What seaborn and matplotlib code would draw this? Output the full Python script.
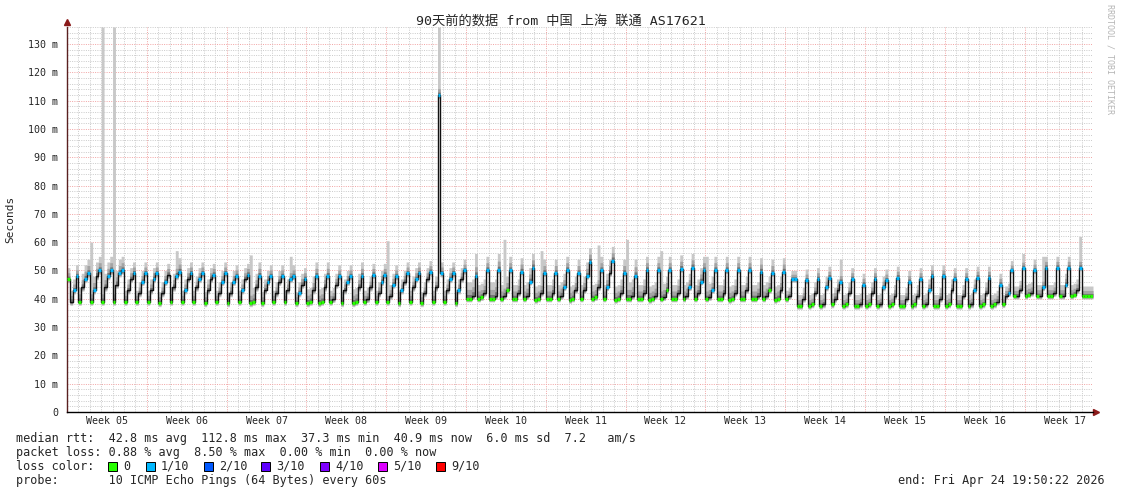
import matplotlib
matplotlib.use("Agg")
import matplotlib.pyplot as plt
from matplotlib.patches import Rectangle
from matplotlib.ticker import MultipleLocator
import numpy as np
import pandas as pd
import seaborn as sns

sns.set_style("white")
plt.rcParams['font.family'] = ['DejaVu Sans Mono', 'Noto Sans CJK SC']

# median rtt (ms), 4 samples per day, 90 days, one row per week
median_rtt = [
    47, 39, 43, 48, 39, 44, 47, 49, 39, 43, 48, 50, 39, 44, 48, 50, 39, 45, 49, 50, 39, 43, 47, 49, 39, 42, 46, 49,
    39, 43, 47, 49, 38.5, 42, 46, 48.5, 39, 44, 48, 49.5, 39, 43, 47, 49, 39, 44, 47, 49, 38.5, 43, 47, 48.5, 39, 42, 46, 49,
    38.5, 42, 46, 48, 39, 43, 47, 48.5, 38.5, 39, 44, 48, 38.5, 43, 46, 48, 39, 42, 46, 48, 39, 43, 47, 48, 38.5, 42, 45, 47,
    38.5, 39, 43, 48, 38.5, 39, 44, 48, 39, 40, 45, 48, 38.5, 43, 46, 48, 38.5, 39, 44, 48, 39, 40, 44, 48.5, 39, 42, 46, 48.5,
    39, 41, 45, 48, 38.5, 43, 46, 49, 39, 44, 47, 49, 38.5, 42, 47, 49.5, 39, 44, 112, 49, 39, 43, 47, 49, 38.5, 43, 47, 50,
    40, 40, 41, 48, 40, 40.5, 42, 50, 40, 40, 41, 50, 40, 41, 43, 50, 40, 40, 42, 49.5, 40, 41, 46, 51, 39.5, 40, 42, 49,
    40, 40, 42, 49, 40, 41, 44, 50, 39.5, 40, 43, 49, 40, 43, 48, 53, 40, 40.5, 44, 50, 40, 44, 49, 53.5, 39.5, 40, 42, 49,
    40, 40, 41, 48, 40, 40, 42, 50, 39.5, 40, 41, 50, 40, 40.5, 43, 50, 40, 40, 42, 50.5, 40, 41, 44, 51, 40, 42, 46, 50,
    40, 40.5, 43, 50, 40, 40, 42, 50, 39.5, 40, 42, 50, 40, 40, 43, 50, 40, 40, 41, 49.5, 40, 41, 43, 49, 39.5, 40, 43, 49.5,
    40, 41, 47, 47, 37.5, 37.5, 40, 46.5, 37.5, 38, 42, 47, 37.5, 38, 44, 47.5, 38, 40, 43, 46, 37.5, 38, 42, 47, 37.5, 37.5, 38, 45,
    37.5, 38, 42, 47, 37.5, 38, 44, 46.5, 37.5, 38, 41, 47.5, 37.5, 37.5, 40, 46, 37.5, 38, 41, 47, 37.5, 38, 43, 48, 37.5, 37.5, 40, 48,
    37.5, 38, 43, 47, 37.5, 37.5, 41, 47, 37.5, 38, 43, 47.5, 37.5, 38, 42, 47.5, 37.5, 38, 39, 45, 38, 41, 42, 50, 41, 41, 43, 51,
    41, 41.5, 42, 50, 41, 41, 44, 51, 41, 41, 42, 51, 41, 41, 45, 51, 41, 41.5, 43, 51, 41, 41, 41, 41,
]

# loss bucket of each sample: '0' = 0/10, '1' = 1/10, '.' = no mark
loss_codes = [
    "0.11 0.11 01.1 0.11 0.11 0..1 0.11",
    "0.11 0.1. 0.11 01.1 0.11 0..1 0.11",
    "0.11 01.1 00.1 0.11 0..1 0.11 01.1",
    "00.1 00.1 0..1 0.11 00.1 0..1 0.11",
    "0.11 01.1 0.11 0..1 0.11 0.11 01.1",
    "00.1 00.1 00.1 0.01 00.1 0.11 00.1",
    "00.1 0.11 00.1 0.11 00.1 01.1 00.1",
    "00.1 00.1 00.1 0.01 00.1 0.11 0.11",
    "0.11 00.1 00.1 00.1 00.1 0.01 00.1",
    "0.11 00.1 00.1 0.11 0..1 00.1 00.1",
    "00.1 0.11 00.1 00.1 00.1 0.11 00.1",
    "00.1 00.1 0.11 00.1 00.1 0.11 0..1",
    "00.1 0.11 00.1 0.11 00.1 0000",
]

# spread of the smoke above / below the median, per day (ms)
smoke_up = [4, 5, 5, 5, 5, 4, 4, 4, 4, 5, 4, 4, 4, 4, 4, 4, 5, 4, 4, 4, 4,
            5, 5, 4, 4, 5, 4, 4, 4, 4, 4, 4, 4, 4, 4, 6, 5, 6, 5, 5, 5, 5,
            5, 5, 5, 5, 5, 5, 5, 6, 5, 5, 5, 5, 5, 5, 5, 5, 5, 5, 5, 5, 5,
            3, 4, 4, 4, 4, 4, 4, 4, 4, 4, 4, 4, 4, 4, 4, 4, 4, 4, 4, 3.5, 3.5,
            4, 4, 4, 4, 4, 3.5]
smoke_dn = [1.3] * 35 + [1.1] * 28 + [1.2] * 19 + [1.1] * 8

# tall narrow smoke spikes (day, top ms)
spike_days = [2.0, 3.0, 4.0, 9.6, 16.0, 19.5, 28.0, 32.5, 35.8, 38.2, 41.5,
              46.6, 48.9, 51.9, 56.1, 67.8, 83.8, 85.4, 88.75]
spike_tops = [60, 136, 136, 57, 55.5, 55, 60.5, 136, 56, 61, 57,
              59, 61, 57, 55, 54, 56, 55, 62]

week_labels = ["Week %02d" % w for w in range(5, 18)]
y_ticks = list(range(0, 131, 10))
y_tick_labels = ["0"] + ["%d m" % v for v in y_ticks[1:]]

loss_legend = ["0", "1/10", "2/10", "3/10", "4/10", "5/10", "9/10"]
loss_legend_colors = ["#26ff00", "#00b8ff", "#0059ff", "#5e00ff", "#7e00ff", "#dd00ff", "#ff0000"]

# ---- build per-sample arrays
spd = 4
med = np.array(median_rtt, dtype=float)
t = np.arange(len(med)) / spd
day = t.astype(int)
up = np.array(smoke_up, dtype=float)[day]
dn = np.array(smoke_dn, dtype=float)[day]
outer_top = med + up
for d, top in zip(spike_days, spike_tops):
    outer_top[int(round(d * spd))] = top
codes = "".join("".join(w.split()) for w in loss_codes)


def ext(a):
    return np.append(a, a[-1])


t_e = np.append(t, 90.0)
W, H = 1121, 494
fig = plt.figure(figsize=(W / 100, H / 100), dpi=100)
fig.patch.set_facecolor("white")
ax = fig.add_axes([67 / W, 82 / H, 1026 / W, 385 / H])
ax.set_xlim(0, 90)
ax.set_ylim(0, 136)

# smoke bands
ax.fill_between(t_e, ext(med - dn), ext(outer_top), step="post", color="#c8c8c8", lw=0, zorder=2)
ax.fill_between(t_e, ext(med - 0.7 * dn), ext(med + 0.55 * up), step="post", color="#a4a4a4", lw=0, zorder=2)
ax.fill_between(t_e, ext(med - 0.4 * dn), ext(med + 0.25 * up), step="post", color="#737373", lw=0, zorder=2)

# median line
df = pd.DataFrame({"day": t_e, "rtt": ext(med)})
sns.lineplot(data=df, x="day", y="rtt", drawstyle="steps-post", color="#111111",
             lw=1.0, estimator=None, ax=ax, zorder=3)

# loss colour marks
code_colors = {"0": "#26ff00", "1": "#00b8ff"}
for c, col in code_colors.items():
    idx = [i for i, ch in enumerate(codes) if ch == c]
    ax.hlines(med[idx], t[idx], t[idx] + 1 / spd, colors=col, lw=2.4, zorder=4)

# grid
ax.set_axisbelow(True)
ax.xaxis.set_major_locator(MultipleLocator(7))
ax.xaxis.set_minor_locator(MultipleLocator(1))
ax.yaxis.set_major_locator(MultipleLocator(10))
ax.yaxis.set_minor_locator(MultipleLocator(2))
ax.grid(which="minor", color="#cdcdcd", linestyle=(0, (1, 1.3)), lw=0.72)
ax.grid(which="major", color="#f2a8a8", linestyle=(0, (1, 1.3)), lw=0.72)
ax.set_xticklabels([])
ax.set_yticks(y_ticks)
ax.set_yticklabels(y_tick_labels, fontsize=7.2)
ax.tick_params(axis="both", which="major", length=2.5, width=0.7, color="#333333", pad=4)
ax.tick_params(axis="both", which="minor", length=1.5, width=0.6, color="#999999")
ax.set_xlabel("")
ax.set_ylabel("")
for s in ["top", "right"]:
    ax.spines[s].set_visible(False)
ax.spines["left"].set_color("#5a2020")
ax.spines["bottom"].set_color("#000000")
ax.spines["left"].set_linewidth(1.0)
ax.spines["bottom"].set_linewidth(1.0)
ax.plot([0], [1.012], marker="^", ms=5, color="#8b1a1a", transform=ax.transAxes, clip_on=False)
ax.plot([1.003], [0], marker=">", ms=5, color="#8b1a1a", transform=ax.transAxes, clip_on=False)

# week labels
for k, lab in enumerate(week_labels):
    ax.text(3.5 + 7 * k, -0.024, lab, transform=ax.get_xaxis_transform(),
            ha="center", va="center", fontsize=7.2)

# texts around the graph
fig.text(0.5, 1 - 21 / H, "90天前的数据 from 中国 上海 联通 AS17621", ha="center", va="center", fontsize=9.5)
fig.text(10 / W, 1 - 219 / H, "Seconds", rotation=90, ha="center", va="center", fontsize=8)
fig.text(1110 / W, 1 - 59 / H, "RRDTOOL / TOBI OETIKER", rotation=-90, ha="center", va="center",
         fontsize=6, color="#b5b5b5")

fs = 8.5
fig.text(16 / W, 1 - 438 / H, "median rtt:  42.8 ms avg  112.8 ms max  37.3 ms min  40.9 ms now  6.0 ms sd  7.2   am/s",
         va="center", fontsize=fs)
fig.text(16 / W, 1 - 452 / H, "packet loss: 0.88 % avg  8.50 % max  0.00 % min  0.00 % now", va="center", fontsize=fs)
fig.text(16 / W, 1 - 466 / H, "loss color:", va="center", fontsize=fs)
box_x = [108, 146, 204, 261, 320, 378, 436]
for bx, lab, col in zip(box_x, loss_legend, loss_legend_colors):
    fig.add_artist(Rectangle((bx / W, 1 - 471 / H), 9 / W, 9 / H, transform=fig.transFigure,
                             facecolor=col, edgecolor="black", lw=0.7))
    fig.text((bx + 15) / W, 1 - 466 / H, lab, va="center", fontsize=fs)
fig.text(16 / W, 1 - 480 / H, "probe:       10 ICMP Echo Pings (64 Bytes) every 60s", va="center", fontsize=fs)
fig.text(1105 / W, 1 - 480 / H, "end: Fri Apr 24 19:50:22 2026", ha="right", va="center", fontsize=fs)

fig.savefig("out.png", dpi=100, facecolor="white")
